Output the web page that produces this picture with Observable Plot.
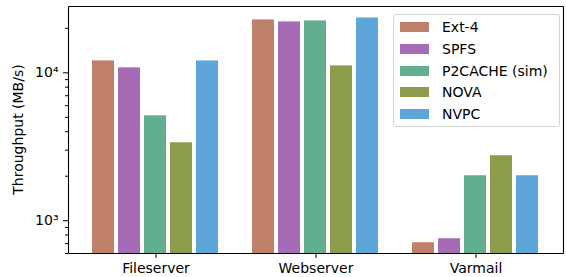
<!DOCTYPE html>
<html>
<head>
<meta charset="utf-8">
<script src="https://cdn.jsdelivr.net/npm/d3@7"></script>
<script src="https://cdn.jsdelivr.net/npm/@observablehq/plot@0.6"></script>
<style>
  html, body { margin: 0; padding: 0; background: #fff; }
  #wrap { position: relative; width: 566px; height: 277px; font-family: "DejaVu Sans", sans-serif; }
  #wrap svg text { font-size: 14px; font-family: "DejaVu Sans", sans-serif; }
  #legend {
    position: absolute; left: 393px; top: 14px; width: 165px; height: 111px;
    border: 1px solid #d4d4d4; border-radius: 3px; background: rgba(255,255,255,0.8);
    box-sizing: content-box;
  }
  #legend .item { position: absolute; left: 6px; height: 22px; display: flex; align-items: center; }
  #legend .sw { width: 29px; height: 10px; margin-right: 13px; }
  #legend .lb { font-size: 14px; color: #000; white-space: nowrap; }
</style>
</head>
<body>
<div id="wrap"></div>
<script>
const categories = ["Fileserver", "Webserver", "Varmail"];
const series = ["Ext-4", "SPFS", "P2CACHE (sim)", "NOVA", "NVPC"];
const ext4    = [12040, 22800, 710];
const spfs    = [10810, 22100, 755];
const p2cache = [5120, 22450, 2014];
const nova    = [3365, 11150, 2750];
const nvpc    = [12040, 23500, 2014];
const colors  = ["#be8068", "#a56cb5", "#63ae8e", "#8b9d4a", "#5ea6d9"];
const yDomain = [600, 28100];
const yTicksMajor = [1000, 10000];
const yTicksMinor = [600, 700, 800, 900, 2000, 3000, 4000, 5000, 6000, 7000, 8000, 9000, 20000];
const yLabel = "Throughput (MB/s)";
const supers = {"3": "\u00b3", "4": "\u2074"};

const valuesBySeries = [ext4, spfs, p2cache, nova, nvpc];
const data = [];
categories.forEach((c, i) => series.forEach((s, j) => data.push({cat: c, series: s, value: valuesBySeries[j][i]})));

const W = 566, H = 277, mL = 68, mR = 2, mT = 6, mB = 24;

function makePlot(axisDx) {
  return Plot.plot({
    width: W, height: H,
    marginLeft: mL, marginRight: mR, marginTop: mT, marginBottom: mB,
    style: {fontFamily: "DejaVu Sans, sans-serif", fontSize: "14px", color: "#000", background: "#fff"},
    fx: {domain: categories, paddingInner: 0.193, paddingOuter: 0.14, label: null},
    x: {domain: series, paddingInner: 0.14, paddingOuter: 0, axis: null},
    y: {type: "log", domain: yDomain, label: null},
    color: {domain: series, range: colors},
    marks: [
      Plot.barY(data, {fx: "cat", x: "series", y1: () => yDomain[0], y2: "value", fill: "series"}),
      Plot.axisFx({anchor: "bottom", tickSize: 5, tickPadding: 5, label: null}),
      Plot.axisY({ticks: yTicksMajor, tickSize: 5, tickPadding: 5, dx: axisDx,
        tickFormat: d => "10" + supers[String(Math.round(Math.log10(d)))], label: null}),
      Plot.axisY({ticks: yTicksMinor, tickSize: 3, dx: axisDx, tickFormat: () => "", label: null})
    ]
  });
}

// first pass: find where the first facet starts, so the y axis sits on the outer frame
const probe = makePlot(0);
const fxScale = probe.scale("fx");
const firstBand = fxScale.apply(categories[0]);
const plot = makePlot(mL - firstBand);

const wrap = document.getElementById("wrap");
wrap.appendChild(plot);

const svg = d3.select(plot);
// outer frame (spines) from the plot margins
const g = svg.append("g").attr("stroke", "#000").attr("stroke-width", 1.1).attr("fill", "none");
const x0 = mL + 0.5, x1 = W - mR - 0.5, y0 = mT + 0.5, y1 = H - mB + 0.5;
[[x0, y0, x1, y0], [x1, y0, x1, y1], [x0, y1, x1, y1], [x0, y0, x0, y1]].forEach(([a, b, c, d]) =>
  g.append("line").attr("x1", a).attr("y1", b).attr("x2", c).attr("y2", d));

// y-axis title
svg.append("text")
  .attr("transform", `translate(12,${(mT + H - mB) / 2}) rotate(-90)`)
  .attr("text-anchor", "middle").attr("dy", "0.75em")
  .attr("fill", "#000")
  .text(yLabel);

// legend
const leg = document.createElement("div");
leg.id = "legend";
series.forEach((s, i) => {
  const it = document.createElement("div");
  it.className = "item";
  it.style.top = (1 + i * 21.8) + "px";
  const sw = document.createElement("div");
  sw.className = "sw"; sw.style.background = colors[i];
  const lb = document.createElement("span");
  lb.className = "lb"; lb.textContent = s;
  it.appendChild(sw); it.appendChild(lb);
  leg.appendChild(it);
});
wrap.appendChild(leg);
</script>
</body>
</html>
